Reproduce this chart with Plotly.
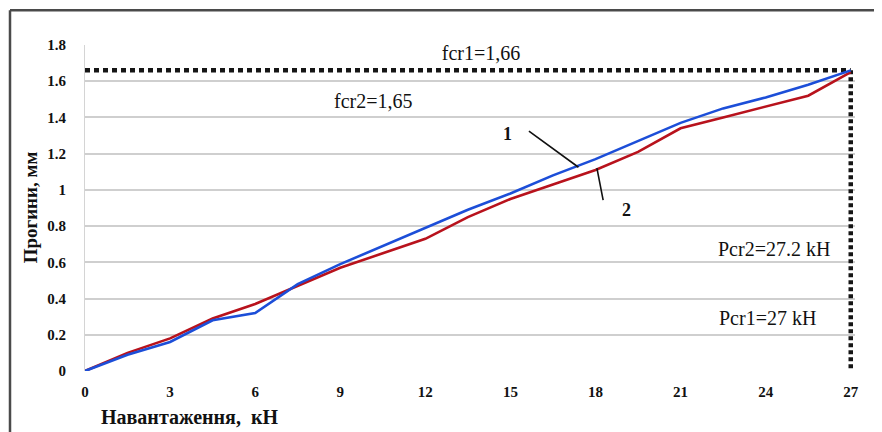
import plotly.graph_objects as go

# Data
load_kn = [0, 1.5, 3, 4.5, 6, 7.5, 9, 10.5, 12, 13.5, 15, 16.5, 18, 19.5, 21, 22.5, 24, 25.5, 27]
defl_1 = [0, 0.09, 0.16, 0.28, 0.32, 0.48, 0.59, 0.69, 0.79, 0.89, 0.98, 1.08, 1.17, 1.27, 1.37, 1.45, 1.51, 1.58, 1.66]
defl_2 = [0, 0.10, 0.18, 0.29, 0.37, 0.47, 0.57, 0.65, 0.73, 0.85, 0.95, 1.03, 1.11, 1.21, 1.34, 1.40, 1.46, 1.52, 1.65]
fcr1 = 1.66
pcr1 = 27
x_ticks = [0, 3, 6, 9, 12, 15, 18, 21, 24, 27]
y_ticks = [0, 0.2, 0.4, 0.6, 0.8, 1.0, 1.2, 1.4, 1.6, 1.8]
y_tick_text = ["0", "0.2", "0.4", "0.6", "0.8", "1", "1.2", "1.4", "1.6", "1.8"]

serif = "Liberation Serif"

# page offset of the plot div (default body margin, 8px) is compensated in margins
PW, PH = 770, 326
def px(P):
    return (P - 85) / PW
def py(P):
    return (370.7 - P) / PH

fig = go.Figure()

# Critical dotted lines
fig.add_trace(go.Scatter(x=[0, pcr1], y=[fcr1, fcr1], mode="lines",
                         line=dict(color="#151515", width=4.5, dash="5px,4px"),
                         showlegend=False, hoverinfo="skip"))
fig.add_trace(go.Scatter(x=[pcr1, pcr1], y=[fcr1, 0], mode="lines",
                         line=dict(color="#151515", width=4.5, dash="4px,3px"),
                         showlegend=False, hoverinfo="skip"))

fig.add_trace(go.Scatter(x=load_kn, y=defl_2, mode="lines", name="2",
                         line=dict(color="#b8121c", width=2.6), showlegend=False))
fig.add_trace(go.Scatter(x=load_kn, y=defl_1, mode="lines", name="1",
                         line=dict(color="#1c4ed8", width=2.6), showlegend=False))

fig.update_layout(
    width=874, height=424,
    margin=dict(l=77, r=27, t=37, b=61),
    paper_bgcolor="white", plot_bgcolor="white",
    showlegend=False,
)
fig.update_xaxes(range=[0, 27.15], tickvals=x_ticks, ticktext=[str(v) for v in x_ticks],
                 showgrid=False, zeroline=False, showline=False,
                 ticks="", ticklabelstandoff=10,
                 tickfont=dict(family=serif, size=15, color="#111", weight="bold"))
fig.update_yaxes(range=[0, 1.8], tickvals=y_ticks, ticktext=y_tick_text,
                 showgrid=True, gridcolor="#cfcfcf", gridwidth=1.5,
                 zeroline=False, showline=True, linecolor="#d4d4d4", linewidth=1,
                 ticks="", ticklabelstandoff=15,
                 tickfont=dict(family=serif, size=15, color="#111", weight="bold"))

ann_font = dict(family=serif, size=20, color="#111")
fig.add_annotation(x=13.95, y=1.672, xref="x", yref="y", yanchor="bottom",
                   text="fcr1=1,66", showarrow=False, font=ann_font,
                   bgcolor="white", width=112, height=24, borderpad=2)
fig.add_annotation(x=10.15, y=1.49, xref="x", yref="y",
                   text="fcr2=1,65", showarrow=False, font=ann_font)
fig.add_annotation(x=24.3, y=0.675, xref="x", yref="y",
                   text="Pcr2=27.2 kH", showarrow=False, font=ann_font)
fig.add_annotation(x=24.05, y=0.29, xref="x", yref="y",
                   text="Pcr1=27 kH", showarrow=False, font=ann_font)

# Curve labels with leader lines
lab_font = dict(family=serif, size=18, color="#111", weight="bold")
fig.add_annotation(x=14.9, y=1.31, xref="x", yref="y", text="1",
                   showarrow=False, font=lab_font)
fig.add_annotation(x=17.4, y=1.125, ax=15.6, ay=1.33, xref="x", yref="y",
                   axref="x", ayref="y", text="", showarrow=True, arrowhead=0,
                   arrowwidth=1.6, arrowcolor="#111")
fig.add_annotation(x=19.1, y=0.89, xref="x", yref="y", text="2",
                   showarrow=False, font=lab_font)
fig.add_annotation(x=18.05, y=1.12, ax=18.28, ay=0.935, xref="x", yref="y",
                   axref="x", ayref="y", text="", showarrow=True, arrowhead=0,
                   arrowwidth=1.6, arrowcolor="#111")

# Axis titles
fig.add_annotation(x=px(30), y=py(207), xref="paper", yref="paper",
                   xanchor="center", yanchor="middle",
                   text="Прогини, мм", textangle=-90, showarrow=False,
                   font=dict(family=serif, size=19, color="#111", weight="bold"))
fig.add_annotation(x=px(99), y=py(417), xref="paper", yref="paper",
                   xanchor="left", yanchor="middle", text="Навантаження,  кН", showarrow=False,
                   font=dict(family=serif, size=20, color="#111", weight="bold"))

# Outer frame (left and top edges visible)
fig.add_shape(type="line", xref="paper", yref="paper",
              x0=px(10), x1=px(10), y0=py(450), y1=py(10),
              line=dict(color="#4a4a4a", width=2.5))
fig.add_shape(type="line", xref="paper", yref="paper",
              x0=px(10), x1=px(900), y0=py(10), y1=py(10),
              line=dict(color="#4a4a4a", width=2.5))

fig.write_html("out.html")
